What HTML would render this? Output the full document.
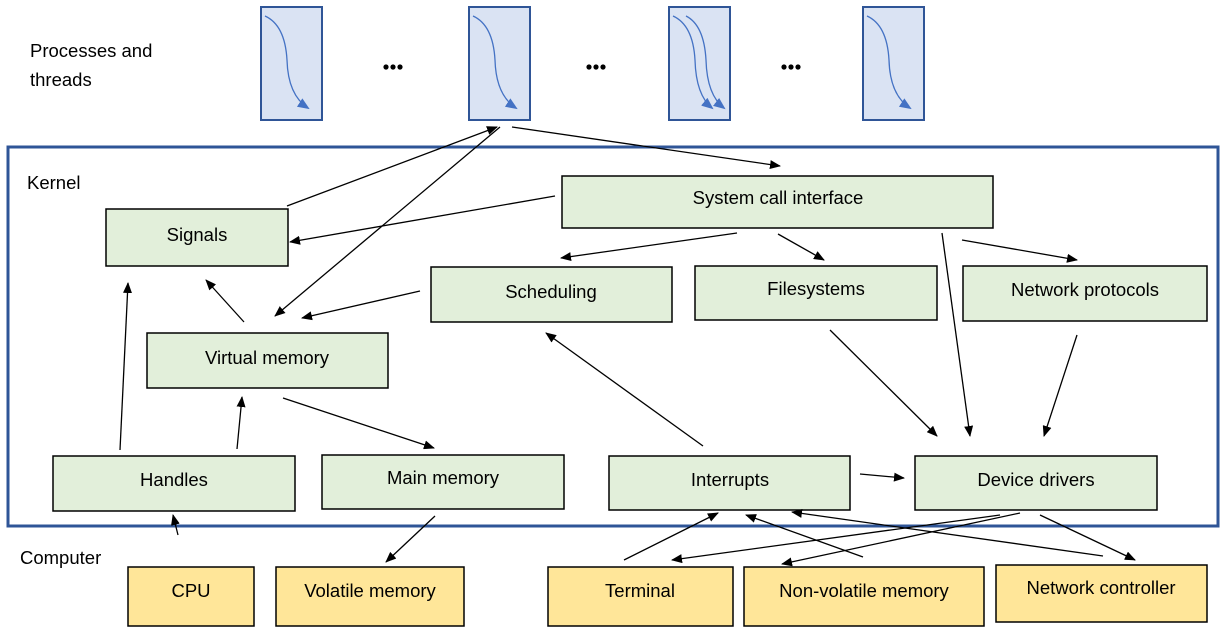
<!DOCTYPE html>
<html><head><style>body{margin:0;background:#fff}svg{display:block}text{font-family:"Liberation Sans",sans-serif;font-size:18.5px;fill:#000}</style></head><body>
<svg width="1224" height="630" viewBox="0 0 1224 630" xmlns="http://www.w3.org/2000/svg">
<defs>
<marker id="a" markerWidth="11" markerHeight="9" refX="10" refY="4.5" orient="auto" markerUnits="userSpaceOnUse"><path d="M0,0L11,4.5L0,9z" fill="#000"/></marker>
<marker id="b" markerWidth="12" markerHeight="10" refX="10" refY="5" orient="auto" markerUnits="userSpaceOnUse"><path d="M0,0L12,5L0,10z" fill="#4472c4"/></marker>
</defs>
<text x="30" y="57">Processes and</text><text x="30" y="86">threads</text>
<g fill="#dae3f3" stroke="#2f5597" stroke-width="2">
<rect x="261" y="7" width="61" height="113"/><rect x="469" y="7" width="61" height="113"/><rect x="669" y="7" width="61" height="113"/><rect x="863" y="7" width="61" height="113"/></g>
<g fill="none" stroke="#4472c4" stroke-width="1.3" marker-end="url(#b)">
<path d="M265,16 Q285,25 287,60 Q288,95 308,108"/>
<path d="M473,16 Q493,25 495,60 Q496,95 516,108"/>
<path d="M673,16 Q693,25 695,60 Q696,95 712,108"/>
<path d="M686,16 Q704,25 706,60 Q707,95 724,108"/>
<path d="M867,16 Q887,25 889,60 Q890,95 910,108"/>
</g>
<g fill="#000"><circle cx="386" cy="67" r="2.6"/><circle cx="393" cy="67" r="2.6"/><circle cx="400" cy="67" r="2.6"/>
<circle cx="589" cy="67" r="2.6"/><circle cx="596" cy="67" r="2.6"/><circle cx="603" cy="67" r="2.6"/>
<circle cx="784" cy="67" r="2.6"/><circle cx="791" cy="67" r="2.6"/><circle cx="798" cy="67" r="2.6"/></g>
<rect x="8" y="147" width="1210" height="379" fill="none" stroke="#2f5597" stroke-width="3"/>
<text x="27" y="189">Kernel</text><text x="20" y="564">Computer</text>
<g fill="#e2efda" stroke="#000" stroke-width="1.5">
<rect x="562" y="176" width="431" height="52"/>
<rect x="106" y="209" width="182" height="57"/>
<rect x="431" y="267" width="241" height="55"/>
<rect x="695" y="266" width="242" height="54"/>
<rect x="963" y="266" width="244" height="55"/>
<rect x="147" y="333" width="241" height="55"/>
<rect x="53" y="456" width="242" height="55"/>
<rect x="322" y="455" width="242" height="54"/>
<rect x="609" y="456" width="241" height="54"/>
<rect x="915" y="456" width="242" height="54"/>
</g>
<g fill="#ffe699" stroke="#000" stroke-width="1.5">
<rect x="128" y="567" width="126" height="59"/>
<rect x="276" y="567" width="188" height="59"/>
<rect x="548" y="567" width="185" height="59"/>
<rect x="744" y="567" width="240" height="59"/>
<rect x="996" y="565" width="211" height="57"/>
</g>
<g text-anchor="middle">
<text x="778" y="204">System call interface</text>
<text x="197" y="241">Signals</text>
<text x="551" y="298">Scheduling</text>
<text x="816" y="295">Filesystems</text>
<text x="1085" y="296">Network protocols</text>
<text x="267" y="364">Virtual memory</text>
<text x="174" y="486">Handles</text>
<text x="443" y="484">Main memory</text>
<text x="730" y="486">Interrupts</text>
<text x="1036" y="486">Device drivers</text>
<text x="191" y="597">CPU</text>
<text x="370" y="597">Volatile memory</text>
<text x="640" y="597">Terminal</text>
<text x="864" y="597">Non-volatile memory</text>
<text x="1101" y="594">Network controller</text>
</g>
<g stroke="#000" stroke-width="1.3" marker-end="url(#a)">
<line x1="287" y1="206" x2="497" y2="127"/>
<line x1="500" y1="127" x2="275" y2="316"/>
<line x1="512" y1="127" x2="780" y2="166"/>
<line x1="555" y1="196" x2="290" y2="242"/>
<line x1="737" y1="233" x2="561" y2="258"/>
<line x1="778" y1="234" x2="824" y2="260"/>
<line x1="962" y1="240" x2="1077" y2="260"/>
<line x1="942" y1="233" x2="970" y2="436"/>
<line x1="420" y1="291" x2="302" y2="318"/>
<line x1="244" y1="322" x2="206" y2="280"/>
<line x1="120" y1="450" x2="128" y2="283"/>
<line x1="237" y1="449" x2="242" y2="397"/>
<line x1="283" y1="398" x2="434" y2="448"/>
<line x1="703" y1="446" x2="546" y2="333"/>
<line x1="860" y1="474" x2="904" y2="478"/>
<line x1="830" y1="330" x2="937" y2="436"/>
<line x1="1077" y1="335" x2="1044" y2="436"/>
<line x1="178" y1="535" x2="173" y2="515"/>
<line x1="435" y1="516" x2="386" y2="562"/>
<line x1="624" y1="560" x2="718" y2="513"/>
<line x1="863" y1="557" x2="746" y2="515"/>
<line x1="1103" y1="556" x2="792" y2="512"/>
<line x1="1000" y1="515" x2="672" y2="560"/>
<line x1="1020" y1="513" x2="782" y2="564"/>
<line x1="1040" y1="515" x2="1135" y2="560"/>
</g>
</svg>
</body></html>
